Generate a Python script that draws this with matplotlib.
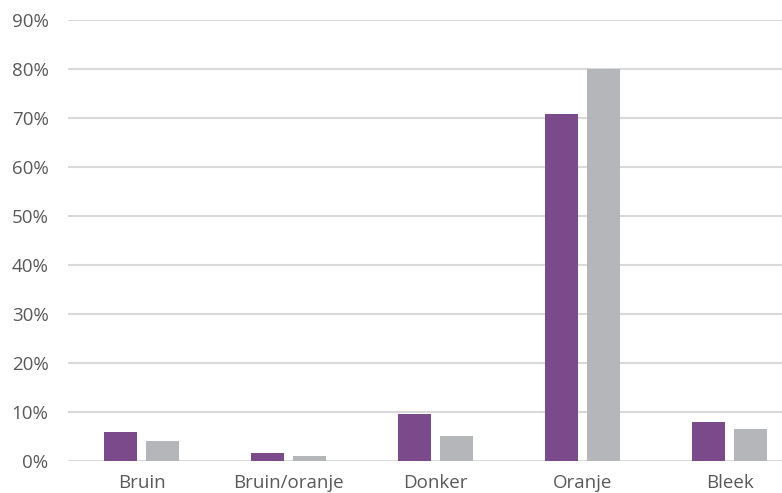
import matplotlib.pyplot as plt
import numpy as np
from matplotlib.ticker import PercentFormatter

categories = ['Bruin', 'Bruin/oranje', 'Donker', 'Oranje', 'Bleek']
serie_paars = [6.0, 1.6, 9.65, 70.8, 8.0]
serie_grijs = [4.0, 1.1, 5.2, 80.0, 6.5]
yticks = [0, 10, 20, 30, 40, 50, 60, 70, 80, 90]

plt.rcParams['font.family'] = ['Open Sans', 'DejaVu Sans']

fig = plt.figure(figsize=(7.82, 4.93), dpi=100)
# de grafiek loopt rechts iets buiten het beeld
ax = fig.add_axes([68 / 782, 32 / 493, 735 / 782, 441 / 493])

x = np.arange(len(categories))
w = 0.2245
off = 0.143
ax.bar(x - off, serie_paars, width=w, color='#7B4A8A', zorder=3)
ax.bar(x + off, serie_grijs, width=w, color='#B4B6B9', zorder=3)

ax.set_xlim(-0.5, len(categories) - 0.5)
ax.set_ylim(0, 90)
ax.set_yticks(yticks)
ax.yaxis.set_major_formatter(PercentFormatter(decimals=0))
ax.set_xticks(x)
ax.set_xticklabels(categories)

ax.grid(axis='y', color='#D9D9D9', linewidth=1.5, zorder=0)
for s in ax.spines.values():
    s.set_visible(False)
ax.tick_params(axis='both', length=0, labelsize=13.5, labelcolor='#595959')
ax.tick_params(axis='y', pad=14)
ax.tick_params(axis='x', pad=9)

fig.savefig('out.png', dpi=100)
